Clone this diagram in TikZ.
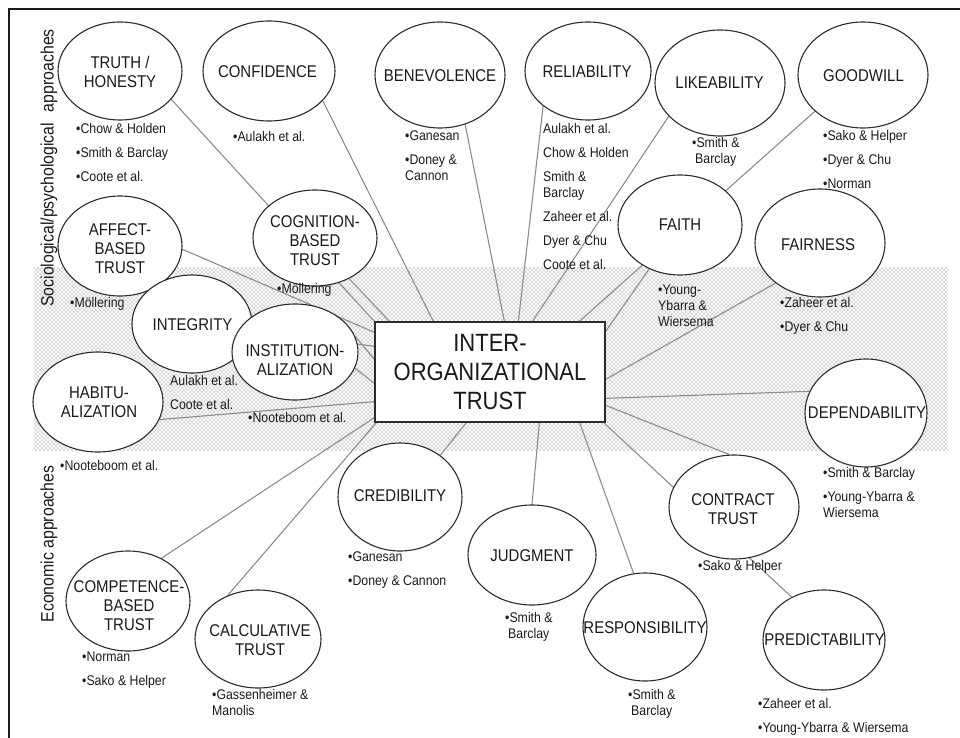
\documentclass[tikz,border=0pt]{standalone}
\usepackage{fontspec}
\setmainfont[FakeStretch=0.88]{Liberation Sans}
\usetikzlibrary{shapes.geometric,patterns}

\pgfdeclarelayer{band}
\pgfdeclarelayer{links}
\pgfsetlayers{band,links,main}

% staggered halftone dots for the shaded band
\pgfdeclarepatternformonly{halftone}{\pgfqpoint{-1pt}{-1pt}}{\pgfqpoint{5pt}{5pt}}{\pgfqpoint{4pt}{4pt}}{%
  \pgfpathcircle{\pgfqpoint{0pt}{0pt}}{0.8pt}%
  \pgfpathcircle{\pgfqpoint{2pt}{2pt}}{0.8pt}%
  \pgfusepath{fill}}

\definecolor{ink}{HTML}{1A1A1A}
\definecolor{rim}{HTML}{2C2C2C}
\definecolor{wire}{HTML}{8C8C8C}
\definecolor{dotc}{HTML}{B0B0B0}

\newcommand{\lblfont}{\fontsize{17}{19}\selectfont}
\newcommand{\reffont}{\fontsize{14}{16}\selectfont}
\newcommand{\hubfont}{\fontsize{25}{29}\selectfont}
\newcommand{\sidefont}{\fontsize{18}{20}\selectfont}

\tikzset{
  concept/.style 2 args={ellipse, draw=rim, line width=1.1pt, fill=white,
    inner sep=0pt, minimum width=#1pt, minimum height=#2pt},
  ctext/.style={font=\lblfont, text=ink, align=center, inner sep=0pt},
  refs/.style={font=\reffont, text=ink, align=left, anchor=north west, inner sep=0pt},
  link/.style={draw=wire, line width=1.1pt},
  hub/.style={rectangle, draw=rim, line width=1.3pt, fill=white,
    minimum width=230pt, minimum height=100pt, font=\hubfont, text=ink,
    align=center, inner sep=0pt},
  side/.style={font=\sidefont, text=ink, rotate=90, anchor=base, inner sep=0pt},
}

\begin{document}
\begin{tikzpicture}[x=1pt, y=-1pt]
\useasboundingbox (0,0) rectangle (960,738);

% frame
\draw[line width=2pt, ink] (960,9.5) -- (8.5,9.5) -- (8.5,738);

% side captions
\node[side] (soc) at (53.5,168) {Sociological/psychological\hspace{0.6em}approaches};
\node[side] (eco) at (53.5,544) {Economic approaches};

% central box
\node[hub] (hub) at (490,372) {INTER-\\ORGANIZATIONAL\\TRUST};

% concept ellipses
\node[concept={124}{98}]  (truth)   at (120,71)  {};
\node[concept={132}{100}] (conf)    at (269,71)  {};
\node[concept={130}{106}] (benev)   at (440,75)  {};
\node[concept={126}{98}]  (reliab)  at (588,71)  {};
\node[concept={130}{106}] (like)    at (720,83)  {};
\node[concept={130}{106}] (goodw)   at (863,75)  {};
\node[concept={124}{100}] (faith)   at (680,225) {};
\node[concept={130}{108}] (fair)    at (820,243) {};
\node[concept={124}{100}] (affect)  at (120,246) {};
\node[concept={124}{96}]  (cogn)    at (315,238) {};
\node[concept={120}{98}]  (integ)   at (192,324) {};
\node[concept={126}{96}]  (instit)  at (295,352) {};
\node[concept={130}{100}] (habit)   at (98,402)  {};
\node[concept={122}{108}] (depend)  at (866,413) {};
\node[concept={124}{108}] (cred)    at (400,497) {};
\node[concept={128}{100}] (judg)    at (532,555) {};
\node[concept={130}{104}] (contr)   at (734,507) {};
\node[concept={124}{108}] (resp)    at (645,627) {};
\node[concept={122}{100}] (pred)    at (824,640) {};
\node[concept={124}{100}] (compet)  at (128,601) {};
\node[concept={126}{98}]  (calc)    at (258,639) {};

% concept names
\node[ctext] (truth-t)  at (120,71.5)  {TRUTH /\\HONESTY};
\node[ctext] (conf-t)   at (267.5,72)  {CONFIDENCE};
\node[ctext] (benev-t)  at (440,76)    {BENEVOLENCE};
\node[ctext] (reliab-t) at (587,72)    {RELIABILITY};
\node[ctext] (like-t)   at (719.5,83)  {LIKEABILITY};
\node[ctext] (goodw-t)  at (863.5,76)  {GOODWILL};
\node[ctext] (faith-t)  at (680,225)   {FAITH};
\node[ctext] (fair-t)   at (818,245)   {FAIRNESS};
\node[ctext] (affect-t) at (120,248.5) {AFFECT-\\BASED\\TRUST};
\node[ctext] (cogn-t)   at (315,241)   {COGNITION-\\BASED\\TRUST};
\node[ctext] (integ-t)  at (192.5,325) {INTEGRITY};
\node[ctext] (instit-t) at (295,360)   {INSTITUTION-\\ALIZATION};
\node[ctext] (habit-t)  at (99,402)    {HABITU-\\ALIZATION};
\node[ctext] (depend-t) at (867,413)   {DEPENDABILITY};
\node[ctext] (cred-t)   at (400,496)   {CREDIBILITY};
\node[ctext] (judg-t)   at (532,556)   {JUDGMENT};
\node[ctext] (contr-t)  at (733,509.5) {CONTRACT\\TRUST};
\node[ctext] (resp-t)   at (645,628)   {RESPONSIBILITY};
\node[ctext] (pred-t)   at (824.5,640) {PREDICTABILITY};
\node[ctext] (compet-t) at (129,605.5) {COMPETENCE-\\BASED\\TRUST};
\node[ctext] (calc-t)   at (260,640)   {CALCULATIVE\\TRUST};

% supporting references
\node[refs] (truth-r)  at (76,122.5)  {\strut•Chow \& Holden\\[8pt]•Smith \& Barclay\\[8pt]•Coote et al.};
\node[refs] (conf-r)   at (233,130.5) {\strut•Aulakh et al.};
\node[refs] (benev-r)  at (405,129.5) {\strut•Ganesan\\[8pt]•Doney \&\\Cannon};
\node[refs] (reliab-r) at (543,122.5) {\strut Aulakh et al.\\[8pt]Chow \& Holden\\[8pt]Smith \&\\Barclay\\[8pt]Zaheer et al.\\[8pt]Dyer \& Chu\\[8pt]Coote et al.};
\node[refs] (like-r)   at (692,136.5) {\strut•Smith \&\\\hspace{3pt}Barclay};
\node[refs] (goodw-r)  at (823,129.5) {\strut•Sako \& Helper\\[8pt]•Dyer \& Chu\\[8pt]•Norman};
\node[refs] (faith-r)  at (658,283.5) {\strut•Young-\\Ybarra \&\\Wiersema};
\node[refs] (fair-r)   at (780,296.5) {\strut•Zaheer et al.\\[8pt]•Dyer \& Chu};
\node[refs] (affect-r) at (70,296.5)  {\strut•Möllering};
\node[refs] (cogn-r)   at (277,282.5) {\strut•Möllering};
\node[refs] (integ-r)  at (170,374.5) {\strut Aulakh et al.\\[8pt]Coote et al.};
\node[refs] (instit-r) at (248,411.5) {\strut•Nooteboom et al.};
\node[refs] (habit-r)  at (60,459.5)  {\strut•Nooteboom et al.};
\node[refs] (depend-r) at (823,466.5) {\strut•Smith \& Barclay\\[8pt]•Young-Ybarra \&\\Wiersema};
\node[refs] (cred-r)   at (348,550.5) {\strut•Ganesan\\[8pt]•Doney \& Cannon};
\node[refs] (judg-r)   at (505,611.5) {\strut•Smith \&\\\hspace{3pt}Barclay};
\node[refs] (contr-r)  at (698,559.5) {\strut•Sako \& Helper};
\node[refs] (resp-r)   at (628,688.5) {\strut•Smith \&\\\hspace{3pt}Barclay};
\node[refs] (pred-r)   at (758,697.5) {\strut•Zaheer et al.\\[8pt]•Young-Ybarra \& Wiersema};
\node[refs] (compet-r) at (82,650.5)  {\strut•Norman\\[8pt]•Sako \& Helper};
\node[refs] (calc-r)   at (212,688.5) {\strut•Gassenheimer \&\\Manolis};

% shaded band behind the middle row
\begin{pgfonlayer}{band}
\fill[pattern=halftone, pattern color=dotc] (34,267) rectangle (948,450);
\end{pgfonlayer}

% spokes into the central box
\begin{pgfonlayer}{links}
\draw[link] (truth.-29)   -- (hub.north west);
\draw[link] (conf.-29)    -- ([xshift=59pt]hub.north west);
\draw[link] (benev.-63)   -- ([xshift=130pt]hub.north west);
\draw[link] (reliab.-142) -- ([xshift=144pt]hub.north west);
\draw[link] (like.-147)   -- ([xshift=158pt]hub.north west);
\draw[link] (goodw.-143)  -- ([xshift=205pt]hub.north west);
\draw[link] (faith.-125)  -- ([yshift=-10pt]hub.north east);
\draw[link] (fair.-138)   -- ([yshift=-58pt]hub.north east);
\draw[link] (depend.159)  -- ([yshift=-77pt]hub.north east);
\draw[link] (contr.95)    -- ([yshift=-84pt]hub.north east);
\draw[link] (pred.127)    -- ([xshift=-2pt]hub.south east);
\draw[link] (resp.102)    -- ([xshift=-26pt]hub.south east);
\draw[link] (judg.90)     -- ([xshift=165pt]hub.south west);
\draw[link] (cred.46)     -- ([xshift=92pt]hub.south west);
\draw[link] (calc.125)    -- ([xshift=2pt]hub.south west);
\draw[link] (compet.52)   -- ([yshift=5pt]hub.south west);
\draw[link] (habit.-16)   -- ([yshift=21pt]hub.south west);
\draw[link] (affect.-3)   -- ([yshift=-11pt]hub.north west);
\draw[link] (cogn.-50)    -- ([xshift=15pt]hub.north west);
\draw[link] (integ.-5)    -- ([yshift=-25pt]hub.north west);
\draw[link] (instit.15)   -- ([yshift=-38pt]hub.north west);
\draw[link] (instit.-15)  -- ([yshift=-62pt]hub.north west);
\end{pgfonlayer}
\end{tikzpicture}
\end{document}
